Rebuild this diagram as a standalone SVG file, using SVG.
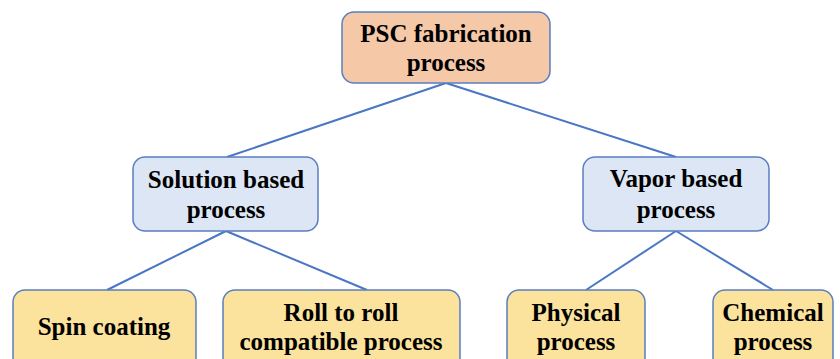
<svg xmlns="http://www.w3.org/2000/svg" width="840" height="359" viewBox="0 0 840 359">
<style>
.box{stroke:#5A7EC0;stroke-width:1.5}
.root{fill:#F5C8A8}
.mid{fill:#DCE6F4}
.leaf{fill:#FBE29D}
.lbl{font-family:'Liberation Serif', 'Times New Roman', serif;font-weight:700;font-size:25px;fill:#000;text-anchor:middle}
.conn line{stroke:#4A76C4;stroke-width:2}
</style>
<rect width="840" height="359" fill="#FFFFFF"/>
<g class="conn">
<line x1="446" y1="83" x2="227" y2="157"/>
<line x1="446" y1="83" x2="676" y2="157"/>
<line x1="226" y1="231" x2="107" y2="290"/>
<line x1="226" y1="231" x2="367" y2="290"/>
<line x1="676" y1="231" x2="586" y2="290"/>
<line x1="676" y1="231" x2="773" y2="290"/>
</g>
<g class="lbl">
<g id="n-root"><rect class="box root" x="342" y="12" width="208" height="71" rx="12"/><text x="446" y="42">PSC fabrication</text><text x="446" y="71">process</text></g>
<g id="n-solution"><rect class="box mid" x="133" y="157" width="185" height="74" rx="12"/><text x="226" y="188">Solution based</text><text x="226" y="218">process</text></g>
<g id="n-vapor"><rect class="box mid" x="583" y="157" width="186" height="74" rx="12"/><text x="676" y="187">Vapor based</text><text x="676" y="218">process</text></g>
<g id="n-spin"><rect class="box leaf" x="13" y="290" width="183" height="90" rx="12"/><text x="104" y="335">Spin coating</text></g>
<g id="n-roll"><rect class="box leaf" x="223" y="290" width="237" height="90" rx="12"/><text x="341" y="321">Roll to roll</text><text x="341" y="350">compatible process</text></g>
<g id="n-physical"><rect class="box leaf" x="507" y="290" width="138" height="90" rx="12"/><text x="576" y="321">Physical</text><text x="576" y="350">process</text></g>
<g id="n-chemical"><rect class="box leaf" x="713" y="290" width="120" height="90" rx="12"/><text x="773" y="321">Chemical</text><text x="773" y="350">process</text></g>
</g>
</svg>
